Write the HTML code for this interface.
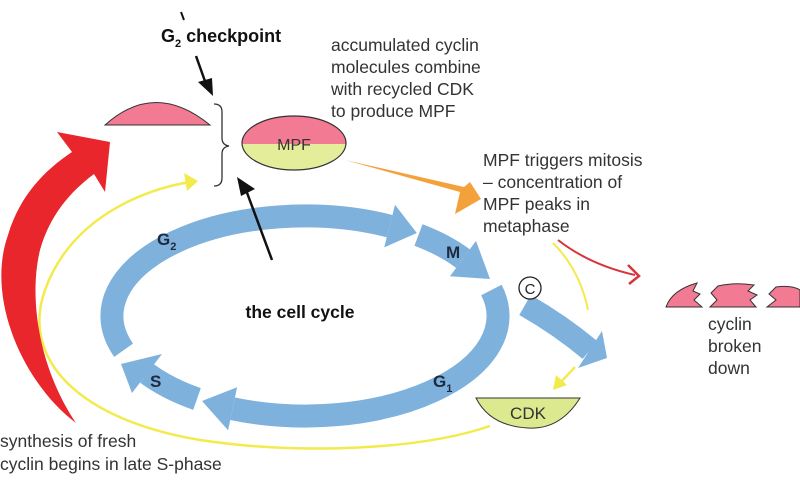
<!DOCTYPE html>
<html><head><meta charset="utf-8"><style>
html,body{margin:0;padding:0;background:#fff;}
svg{display:block}
text{font-family:"Liberation Sans",sans-serif;}
</style></head><body>
<svg width="800" height="492" viewBox="0 0 800 492" xmlns="http://www.w3.org/2000/svg">
<!-- yellow big loop -->
<path d="M490,426 C420,450 300,455 200,440 C80,420 20,360 45,290 C70,220 140,190 190,182" fill="none" stroke="#f3ea4c" stroke-width="2.5"/>
<polygon points="198,181 184,173 187,191" fill="#f3ea4c"/>
<!-- red big arrow -->
<path d="M76,423 C25,385 -15,300 8,235 C20,195 45,170 72,152 L57,132 L110,142 L105,192 L94,174 C70,192 50,215 40,250 C28,300 40,370 76,423 Z" fill="#e8262b"/>
<!-- cycle -->
<g fill="none" stroke="#7eb1dc" stroke-width="23">
<path d="M123.6,350.2 A193 100 0 0 1 389.6,226.1"/>
<path d="M418.5,235 A193 100 0 0 1 463,258.6"/>
<path d="M491.4,290 A193 100 0 0 1 232.6,408.7"/>
<path d="M197,399 A193 100 0 0 1 146.9,373.4"/>
<path d="M525,305 Q560,325 590,350"/>
</g>
<g fill="#7eb1dc">
<polygon points="384.2,247.4 395,204.8 416.8,233"/>
<polygon points="450,276.3 476,240.9 490,279"/>
<polygon points="237.1,387.2 228.1,430.2 202,401"/>
<polygon points="162,354 132,393 121,364"/>
<polygon points="578,368 602,331 607,358"/>
</g>
<circle cx="530" cy="288" r="11" fill="#fff" stroke="#222" stroke-width="1.3"/>
<text x="530" y="294" font-size="15" text-anchor="middle" fill="#222">C</text>
<!-- labels cycle -->
<g font-weight="bold" fill="#1e2a40" font-size="17">
<text x="157" y="245">G<tspan font-size="11" dy="5">2</tspan></text>
<text x="446" y="258">M</text>
<text x="433" y="387">G<tspan font-size="11" dy="5">1</tspan></text>
<text x="150" y="387">S</text>
</g>
<text x="300" y="318" font-size="17.5" font-weight="bold" text-anchor="middle" fill="#111">the cell cycle</text>
<!-- orange arrow -->
<path d="M345,160 L460,192 L455,214 L481,199 L470,182 L464,187 Z" fill="#f3a13a"/>
<!-- pink dome -->
<path d="M105,125 Q155,80 210,125 Z" fill="#f27a92" stroke="#333" stroke-width="1"/>
<!-- MPF -->
<clipPath id="mc"><ellipse cx="294" cy="143" rx="52" ry="27"/></clipPath>
<g clip-path="url(#mc)"><rect x="240" y="110" width="110" height="34" fill="#f27a92"/><rect x="240" y="144" width="110" height="30" fill="#e4ee9a"/></g>
<ellipse cx="294" cy="143" rx="52" ry="27" fill="none" stroke="#333" stroke-width="1.2"/>
<text x="294" y="150" font-size="16" text-anchor="middle" fill="#333">MPF</text>
<!-- brace -->
<path d="M214,104 Q222,104 222,112 L222,138 Q222,145 229,146 Q222,147 222,154 L222,178 Q222,186 214,186" fill="none" stroke="#333" stroke-width="1.3"/>
<!-- black arrows -->
<line x1="181" y1="12" x2="184" y2="20" stroke="#111" stroke-width="2"/>
<line x1="196" y1="56" x2="206" y2="84" stroke="#111" stroke-width="2.5"/>
<polygon points="198,82 212,78 213,96" fill="#111"/>
<line x1="272" y1="260" x2="246" y2="190" stroke="#111" stroke-width="2.5"/>
<polygon points="237,177 255,189 241,196" fill="#111"/>
<text x="161" y="42" font-size="18" font-weight="bold" fill="#111">G<tspan font-size="11" dy="5">2</tspan><tspan dy="-5"> checkpoint</tspan></text>
<g font-size="17.5" fill="#333">
<text x="331" y="51">accumulated cyclin</text>
<text x="331" y="73">molecules combine</text>
<text x="331" y="95">with recycled CDK</text>
<text x="331" y="117">to produce MPF</text>
<text x="483" y="166">MPF triggers mitosis</text>
<text x="483" y="188">– concentration of</text>
<text x="483" y="210">MPF peaks in</text>
<text x="483" y="232">metaphase</text>
<text x="708" y="330">cyclin</text>
<text x="708" y="352">broken</text>
<text x="708" y="374">down</text>
<text x="0" y="447">synthesis of fresh</text>
<text x="0" y="470">cyclin begins in late S-phase</text>
</g>
<!-- yellow small curves -->
<path d="M553,243 Q580,270 588,310" fill="none" stroke="#f3ea4c" stroke-width="2"/>
<line x1="575" y1="367" x2="560" y2="383" stroke="#f3ea4c" stroke-width="2.5"/>
<polygon points="553,390 556,375 567,385" fill="#f3ea4c"/>
<!-- red thin arrow -->
<path d="M558,240 Q590,265 635,275" fill="none" stroke="#d9333a" stroke-width="2"/>
<polyline points="628,265 639,276 629,284" fill="none" stroke="#d9333a" stroke-width="2.5"/>
<!-- CDK -->
<path d="M476,398 L580,398 Q560,430 528,428 Q490,426 476,398 Z" fill="#dde98f" stroke="#333" stroke-width="1"/>
<text x="528" y="419" font-size="17" text-anchor="middle" fill="#333">CDK</text>
<!-- broken cyclin -->
<g fill="#f27a92" stroke="#333" stroke-width="1">
<path d="M666,307 Q672,290 697,283 L693,291 L700,294 L694,300 L702,307 Z"/>
<path d="M710,307 L717,300 L711,293 L718,286 Q735,282 754,285 L748,291 L757,295 L750,300 L756,307 Z"/>
<path d="M767,307 L776,300 L769,294 L776,287 Q792,285 800,290 L800,307 Z"/>
</g>
</svg>
</body></html>
